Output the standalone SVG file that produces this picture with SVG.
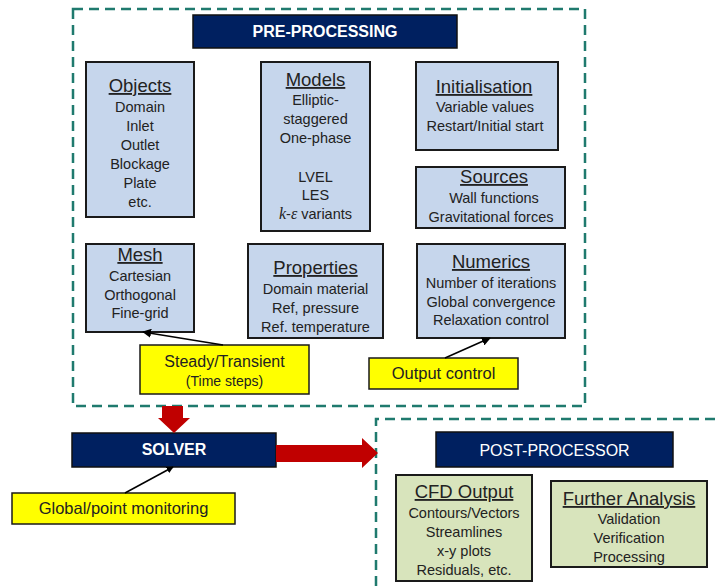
<svg xmlns="http://www.w3.org/2000/svg" width="718" height="586" viewBox="0 0 718 586">
<defs>
<marker id="ah" viewBox="0 0 10 10" refX="9" refY="5" markerWidth="7" markerHeight="7" orient="auto" markerUnits="userSpaceOnUse"><path d="M0,0 L10,5 L0,10 z" fill="#000"/></marker>
<marker id="ah2" viewBox="0 0 10 10" refX="9" refY="5" markerWidth="9" markerHeight="9" orient="auto" markerUnits="userSpaceOnUse"><path d="M0,0 L10,5 L0,10 z" fill="#000"/></marker>
</defs>
<style>
text{font-family:"Liberation Sans",Arial,sans-serif;fill:#222;text-anchor:middle}
.blue{fill:#c6d6ec;stroke:#1a1a1a;stroke-width:2}
.green{fill:#d8e4bc;stroke:#1a1a1a;stroke-width:2}
.yel{fill:#ffff00;stroke:#1a1a1a;stroke-width:1.5}
.navy{fill:#002060;stroke:#111;stroke-width:1.5}
.dash{fill:none;stroke:#1f7a6e;stroke-width:2.5;stroke-dasharray:10,6}
.t{font-size:18.5px;text-decoration:underline}
.b{font-size:14.5px}
.hd{fill:#fff;font-size:16px}
.con{stroke:#000;stroke-width:1.5;fill:none}
.red{fill:#c00000}
</style>
<rect width="718" height="586" fill="#fff"/>
<g id="frames">
<rect class="dash" x="73" y="9" width="512" height="397"/>
<path class="dash" d="M376,586 L376,419 L718,419"/>
</g>
<g id="pre-processing"><rect class="navy" x="193" y="15" width="264" height="33"/><text class="hd" x="325" y="37" font-weight="bold">PRE-PROCESSING</text></g>
<g id="objects"><rect class="blue" x="86" y="62" width="108" height="155"/>
<text class="t" x="140" y="92">Objects</text>
<text class="b" x="140" y="112">Domain</text><text class="b" x="140" y="131">Inlet</text><text class="b" x="140" y="150">Outlet</text><text class="b" x="140" y="169">Blockage</text><text class="b" x="140" y="188">Plate</text><text class="b" x="140" y="207">etc.</text></g>
<g id="models"><rect class="blue" x="261" y="62" width="109" height="169"/>
<text class="t" x="315.5" y="86">Models</text>
<text class="b" x="315.5" y="105">Elliptic-</text><text class="b" x="315.5" y="124">staggered</text><text class="b" x="315.5" y="143">One-phase</text>
<text class="b" x="315.5" y="182">LVEL</text><text class="b" x="315.5" y="200">LES</text>
<text class="b" x="315.5" y="219"><tspan font-family="Liberation Serif,serif" font-style="italic" font-size="16">k</tspan>-<tspan font-family="Liberation Serif,serif" font-style="italic" font-size="16">ε</tspan> variants</text></g>
<g id="initialisation"><rect class="blue" x="416" y="62" width="142" height="88"/>
<text class="t" x="484" y="93">Initialisation</text>
<text class="b" x="485" y="112">Variable values</text><text class="b" x="485" y="131">Restart/Initial start</text></g>
<g id="sources"><rect class="blue" x="416" y="167" width="149" height="61"/>
<text class="t" x="494" y="183">Sources</text>
<text class="b" x="494" y="203">Wall functions</text><text class="b" x="491" y="222">Gravitational  forces</text></g>
<g id="mesh"><rect class="blue" x="86" y="244" width="108" height="88"/>
<text class="t" x="140" y="261">Mesh</text>
<text class="b" x="140" y="281">Cartesian</text><text class="b" x="140" y="300">Orthogonal</text><text class="b" x="140" y="318">Fine-grid</text></g>
<g id="properties"><rect class="blue" x="248" y="244" width="135" height="94"/>
<text class="t" x="315.5" y="274">Properties</text>
<text class="b" x="315.5" y="294">Domain material</text><text class="b" x="315.5" y="313">Ref, pressure</text><text class="b" x="315.5" y="332">Ref. temperature</text></g>
<g id="numerics"><rect class="blue" x="417" y="244" width="148" height="94"/>
<text class="t" x="491" y="268">Numerics</text>
<text class="b" x="491" y="288">Number of iterations</text><text class="b" x="491" y="307">Global convergence</text><text class="b" x="491" y="325">Relaxation control</text></g>
<g id="steady-transient"><rect class="yel" x="140" y="345" width="169" height="49"/>
<text x="224.5" y="367" font-size="16">Steady/Transient</text><text x="224.5" y="386" font-size="14">(Time steps)</text></g>
<g id="output-control"><rect class="yel" x="369" y="358" width="149" height="31"/>
<text x="443.5" y="379" font-size="16.5">Output control</text></g>
<g id="solver"><rect class="navy" x="72" y="433" width="204" height="34"/><text class="hd" x="174" y="455" font-weight="bold" font-size="15">SOLVER</text></g>
<g id="global-monitoring"><rect class="yel" x="12" y="493" width="223" height="31"/>
<text x="123.5" y="514" font-size="16.5">Global/point monitoring</text></g>
<g id="post-processor"><rect class="navy" x="436" y="432" width="237" height="35"/><text class="hd" x="554.5" y="456" font-size="15.5">POST-PROCESSOR</text></g>
<g id="cfd-output"><rect class="green" x="396" y="475" width="136" height="106"/>
<text class="t" x="464" y="498">CFD Output</text>
<text class="b" x="464" y="518">Contours/Vectors</text><text class="b" x="464" y="537">Streamlines</text><text class="b" x="464" y="556">x-y plots</text><text class="b" x="464" y="575">Residuals, etc.</text></g>
<g id="further-analysis"><rect class="green" x="551" y="481" width="156" height="86"/>
<text class="t" x="629" y="505">Further Analysis</text>
<text class="b" x="629" y="524">Validation</text><text class="b" x="629" y="543">Verification</text><text class="b" x="629" y="562">Processing</text></g>
<g id="connectors">
<line class="con" x1="223" y1="345" x2="143" y2="332" marker-end="url(#ah2)"/>
<line class="con" x1="445" y1="358" x2="490" y2="338" marker-end="url(#ah2)"/>
<line class="con" x1="125" y1="493" x2="173" y2="467" marker-end="url(#ah)"/>
<path class="red" d="M162,406 L183,406 L183,418 L190,418 L174,433 L158,418 L162,418 z"/>
<path class="red" d="M276,445 L362,445 L362,438 L378,453 L362,468 L362,462 L276,462 z"/>
</g>
</svg>
